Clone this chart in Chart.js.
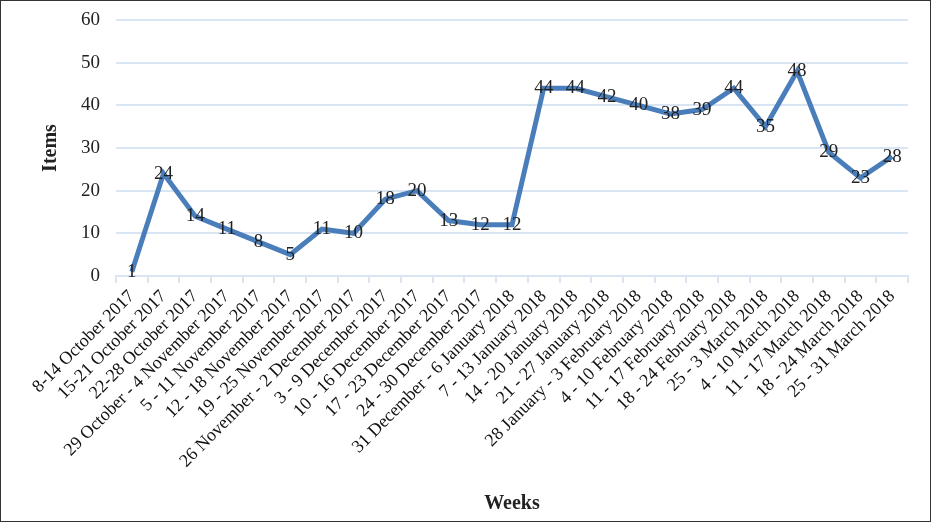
<!DOCTYPE html>
<html>
<head>
<meta charset="utf-8">
<script src="https://cdn.jsdelivr.net/npm/chart.js@4.4.1/dist/chart.umd.min.js"></script>
<style>
    html, body { margin: 0; padding: 0; background: #fff; }
    #wrap { width: 929px; height: 520px; border: 1px solid #333; position: relative; }
</style>
</head>
<body>
<div id="wrap"><canvas id="items-chart" width="929" height="520"></canvas></div>
<script>
const weeks = [
    '8-14 October 2017', '15-21 October 2017', '22-28 October 2017',
    '29 October - 4 November 2017', '5 - 11 November 2017', '12 - 18 November 2017',
    '19 - 25 November 2017', '26 November - 2 December 2017', '3 - 9 December 2017',
    '10 - 16 December 2017', '17 - 23 December 2017', '24 - 30 December 2017',
    '31 December - 6 January 2018', '7 - 13 January 2018', '14 - 20 January 2018',
    '21 - 27 January 2018', '28 January - 3 February 2018', '4 - 10 February 2018',
    '11 - 17 February 2018', '18 - 24 February 2018', '25 - 3 March 2018',
    '4 - 10 March 2018', '11 - 17 March 2018', '18 - 24 March 2018', '25 - 31 March 2018'
];
const items = [1, 24, 14, 11, 8, 5, 11, 10, 18, 20, 13, 12, 12, 44, 44, 42, 40, 38, 39, 44, 35, 48, 29, 23, 28];
const yTicks = [0, 10, 20, 30, 40, 50, 60];

const serif = '"Liberation Serif", "Times New Roman", serif';

// value labels drawn centred on each point
const pointLabels = {
    id: 'pointLabels',
    afterDatasetsDraw(chart) {
        const c = chart.ctx;
        const meta = chart.getDatasetMeta(0);
        c.save();
        c.font = '19px ' + serif;
        c.fillStyle = '#222';
        c.textAlign = 'center';
        c.textBaseline = 'middle';
        meta.data.forEach((pt, i) => {
            c.fillText(items[i], pt.x, pt.y);
        });
        c.restore();
    }
};

document.addEventListener('DOMContentLoaded', () => {
    const ctx = document.getElementById('items-chart').getContext('2d');
    new Chart(ctx, {
        type: 'line',
        data: {
            labels: weeks,
            datasets: [{
                data: items,
                borderColor: '#4a7ebb',
                borderWidth: 5,
                pointRadius: 0,
                tension: 0,
                fill: false
            }]
        },
        options: {
            responsive: false,
            animation: false,
            layout: { padding: { top: 19, right: 22, bottom: 5, left: 30 } },
            plugins: {
                legend: { display: false },
                tooltip: { enabled: false }
            },
            scales: {
                x: {
                    offset: true,
                    afterFit: axis => { axis.height = 240; },
                    grid: {
                        offset: true,
                        drawOnChartArea: false,
                        color: '#d9e5f3',
                        tickLength: 7,
                        lineWidth: 2
                    },
                    border: { color: '#d9e5f3', width: 2 },
                    ticks: {
                        font: { family: serif, size: 18 },
                        color: '#111',
                        minRotation: 45,
                        maxRotation: 45,
                        autoSkip: false,
                        padding: 3
                    },
                    title: {
                        display: true,
                        text: 'Weeks',
                        font: { family: serif, size: 20, weight: 'bold' },
                        color: '#222',
                        padding: { top: 0, bottom: 0 }
                    }
                },
                y: {
                    min: 0,
                    max: 60,
                    afterBuildTicks: axis => { axis.ticks = yTicks.map(v => ({ value: v })); },
                    afterFit: axis => {
                        axis.width = 85;
                        axis.paddingTop = 0;
                        axis.paddingBottom = 0;
                    },
                    grid: { color: '#d9e5f3', lineWidth: 2, drawTicks: false },
                    border: { display: false },
                    ticks: {
                        font: { family: serif, size: 19 },
                        color: '#222',
                        padding: 16
                    },
                    title: {
                        display: true,
                        text: 'Items',
                        font: { family: serif, size: 20, weight: 'bold' },
                        color: '#222',
                        padding: { top: 8, bottom: 0 }
                    }
                }
            }
        },
        plugins: [pointLabels]
    });
});
</script>
</body>
</html>
